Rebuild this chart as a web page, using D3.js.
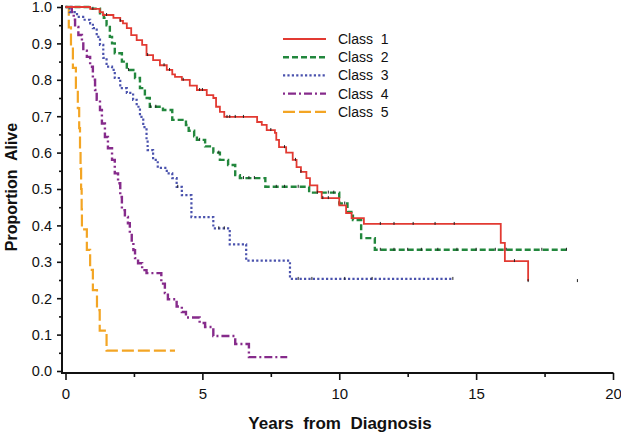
<!DOCTYPE html>
<html><head><meta charset="utf-8">
<script src="https://cdn.jsdelivr.net/npm/d3@7/dist/d3.min.js"></script>
<style>html,body{margin:0;padding:0;background:#fff;} svg{display:block;font-family:"Liberation Sans",Arial,sans-serif;}</style>
</head><body><svg id="c" width="621" height="434"></svg>
<script>
const classNames = ["Class  1","Class  2","Class  3","Class  4","Class  5"];
const xTicks = [0,5,10,15,20];
const xMinorTicks = [2.5,7.5,12.5,17.5];
const yTicks = [0,0.1,0.2,0.3,0.4,0.5,0.6,0.7,0.8,0.9,1.0];
const yMinorTicks = [0.05,0.15,0.25,0.35,0.45,0.55,0.65,0.75,0.85,0.95];
// step points [years, proportion alive after step]
const class1 = [[0,1],[0.9,0.995],[1.25,0.986],[1.37,0.978],[1.75,0.97],[2.0,0.962],[2.1,0.955],[2.24,0.942],[2.4,0.923],[2.6,0.909],[2.8,0.896],[2.96,0.868],[3.2,0.854],[3.45,0.84],[3.7,0.827],[3.9,0.815],[4.0,0.808],[4.25,0.8],[4.54,0.784],[4.8,0.772],[5.16,0.758],[5.4,0.75],[5.5,0.726],[5.64,0.712],[5.8,0.698],[7.0,0.684],[7.17,0.676],[7.35,0.662],[7.65,0.654],[7.7,0.635],[7.8,0.615],[8.06,0.6],[8.3,0.58],[8.44,0.56],[8.6,0.547],[8.8,0.53],[8.93,0.51],[9.2,0.492],[9.36,0.475],[10.0,0.455],[10.25,0.434],[10.45,0.42],[10.9,0.404],[15.9,0.352],[16.05,0.302],[16.9,0.247]];
const class2 = [[0,1],[0.9,0.995],[1.26,0.983],[1.4,0.97],[1.5,0.95],[1.62,0.918],[1.7,0.9],[1.8,0.873],[2.06,0.85],[2.24,0.827],[2.54,0.805],[2.72,0.777],[2.9,0.75],[3.08,0.726],[3.56,0.717],[3.9,0.69],[4.4,0.676],[4.5,0.66],[4.7,0.645],[4.8,0.635],[5.1,0.617],[5.4,0.6],[5.64,0.58],[5.94,0.566],[6.2,0.538],[6.37,0.53],[7.3,0.506],[8.9,0.49],[10.0,0.46],[10.3,0.437],[10.5,0.415],[10.8,0.365],[11.3,0.333]];
const class3 = [[0,1],[0.15,0.986],[0.42,0.973],[0.7,0.965],[0.9,0.955],[1.0,0.942],[1.14,0.918],[1.26,0.896],[1.38,0.86],[1.5,0.836],[1.7,0.827],[1.8,0.805],[2.0,0.777],[2.24,0.764],[2.47,0.745],[2.6,0.726],[2.72,0.698],[2.84,0.67],[2.96,0.635],[3.0,0.607],[3.2,0.58],[3.37,0.558],[3.7,0.543],[3.9,0.53],[4.06,0.506],[4.25,0.483],[4.6,0.423],[5.4,0.392],[6.0,0.348],[6.6,0.303],[8.2,0.253]];
const class4 = [[0,1],[0.23,0.986],[0.3,0.965],[0.35,0.945],[0.47,0.923],[0.6,0.9],[0.65,0.88],[0.78,0.863],[0.9,0.836],[1.0,0.8],[1.08,0.772],[1.14,0.745],[1.26,0.717],[1.33,0.68],[1.44,0.643],[1.55,0.612],[1.7,0.58],[1.8,0.543],[1.92,0.516],[2.0,0.478],[2.06,0.442],[2.17,0.423],[2.28,0.406],[2.35,0.379],[2.42,0.354],[2.48,0.332],[2.54,0.31],[2.65,0.296],[2.8,0.277],[2.96,0.269],[3.5,0.24],[3.63,0.214],[3.74,0.197],[4.06,0.177],[4.25,0.162],[4.4,0.147],[4.9,0.132],[5.1,0.121],[5.4,0.096],[6.2,0.074],[6.7,0.038]];
const class5 = [[0,1],[0.12,0.944],[0.2,0.889],[0.27,0.833],[0.38,0.778],[0.45,0.722],[0.5,0.667],[0.53,0.611],[0.55,0.556],[0.57,0.5],[0.59,0.444],[0.6,0.389],[0.78,0.333],[0.9,0.278],[1.0,0.222],[1.15,0.167],[1.25,0.111],[1.5,0.056]];
const lastFollowUp = [16.9, 18.3, 14.15, 8.1, 4.0];
const censor1 = [1.0,1.5,2.0,3.0,3.6,3.8,4.3,4.9,5.0,5.9,6.0,6.2,6.5,7.5,8.0,8.4,8.6,9.4,9.6,11.5,12.0,12.7,13.5,14.2,16.4,16.9];
const censor2 = [2.3,3.1,3.3,4.9,5.6,6.5,6.7,6.9,7.7,8.0,8.5,9.2,9.6,9.8,10.2,11.5,12.0,12.5,13.0,13.6,14.3,15.0,15.7,16.1,17.4,18.3];
const censor3 = [4.1,5.6,5.8,8.5,9.0,10.2,11.2,14.15];
const strayMark = [[18.7,0.247]];

const colors = ["#e23a32","#22873d","#4a52ad","#862b8b","#f3a524"];
const dashes = [null,"6,3","2.2,2.2","2,3,8,3","12,4"];
const widths = [1.8,2.4,2.2,2.4,2.2];

const svg = d3.select("#c");
const x = d3.scaleLinear().domain([0,20]).range([65.5,613]);
const y = d3.scaleLinear().domain([0,1]).range([371,7]);

// axes lines
svg.append("line").attr("x1",62).attr("x2",62).attr("y1",5).attr("y2",374).attr("stroke","#111").attr("stroke-width",2);
svg.append("line").attr("x1",61).attr("x2",613.5).attr("y1",373).attr("y2",373).attr("stroke","#111").attr("stroke-width",2);

const yAx = svg.append("g").attr("transform","translate(62,0)")
  .call(d3.axisLeft(y).tickValues(yTicks).tickFormat(d3.format(".1f")).tickSize(5).tickPadding(5));
const yMin = svg.append("g").attr("transform","translate(62,0)")
  .call(d3.axisLeft(y).tickValues(yMinorTicks).tickFormat("").tickSize(3));
const xAx = svg.append("g").attr("transform","translate(0,373)")
  .call(d3.axisBottom(x).tickValues(xTicks).tickFormat(d3.format("d")).tickSize(7).tickPadding(8));
const xMin = svg.append("g").attr("transform","translate(0,373)")
  .call(d3.axisBottom(x).tickValues(xMinorTicks).tickFormat("").tickSize(4));
[yAx,yMin,xAx,xMin].forEach(g=>{
  g.select(".domain").remove();
  g.selectAll(".tick line").attr("stroke","#111").attr("stroke-width",1.6);
  g.selectAll(".tick text").attr("fill","#111").style("font-size","15px");
});
yAx.selectAll(".tick text").style("font-size","14.5px").attr("dy","0.34em");

// axis titles
svg.append("text").attr("x",340).attr("y",429).attr("text-anchor","middle")
  .style("font-size","17px").style("font-weight","bold").attr("fill","#111").style("white-space","pre")
  .text("Years  from  Diagnosis");
svg.append("text").attr("transform","translate(16.5,187) rotate(-90)").attr("text-anchor","middle")
  .style("font-size","16px").style("font-weight","bold").attr("fill","#111").style("white-space","pre")
  .text("Proportion  Alive");

const series = [class1,class2,class3,class4,class5];
const line = d3.line().x(d=>x(d[0])).y(d=>y(d[1])).curve(d3.curveStepAfter);
function survAt(s,t){let v=1;for(const p of s){if(p[0]<=t)v=p[1];}return v;}

// draw curves, orange first so others overlay
[4,3,2,1,0].forEach(i=>{
  const s = series[i];
  const pts = s.concat([[lastFollowUp[i], s[s.length-1][1]]]);
  svg.append("path").attr("d",line(pts)).attr("fill","none")
    .attr("stroke",colors[i]).attr("stroke-width",widths[i])
    .attr("stroke-dasharray",dashes[i]);
});

// censor marks
const cens = [[censor1,class1],[censor2,class2],[censor3,class3]];
cens.forEach(([c,s])=>{
  svg.append("g").selectAll("line").data(c).join("line")
    .attr("x1",d=>x(d)).attr("x2",d=>x(d))
    .attr("y1",d=>y(survAt(s,d))-2).attr("y2",d=>y(survAt(s,d))+1)
    .attr("stroke","#222").attr("stroke-width",1);
});
svg.append("g").selectAll("line").data(strayMark).join("line")
  .attr("x1",d=>x(d[0])).attr("x2",d=>x(d[0]))
  .attr("y1",d=>y(d[1])-2).attr("y2",d=>y(d[1])+1)
  .attr("stroke","#222").attr("stroke-width",1);

// legend
const lg = svg.append("g");
classNames.forEach((n,i)=>{
  const yy = 39 + i*18.2;
  lg.append("line").attr("x1",283).attr("x2",326).attr("y1",yy).attr("y2",yy)
    .attr("stroke",colors[i]).attr("stroke-width",widths[i]).attr("stroke-dasharray",dashes[i]);
  lg.append("text").attr("x",338).attr("y",yy+5).style("font-size","14px").attr("fill","#111")
    .style("white-space","pre").text(n);
});
</script></body></html>
